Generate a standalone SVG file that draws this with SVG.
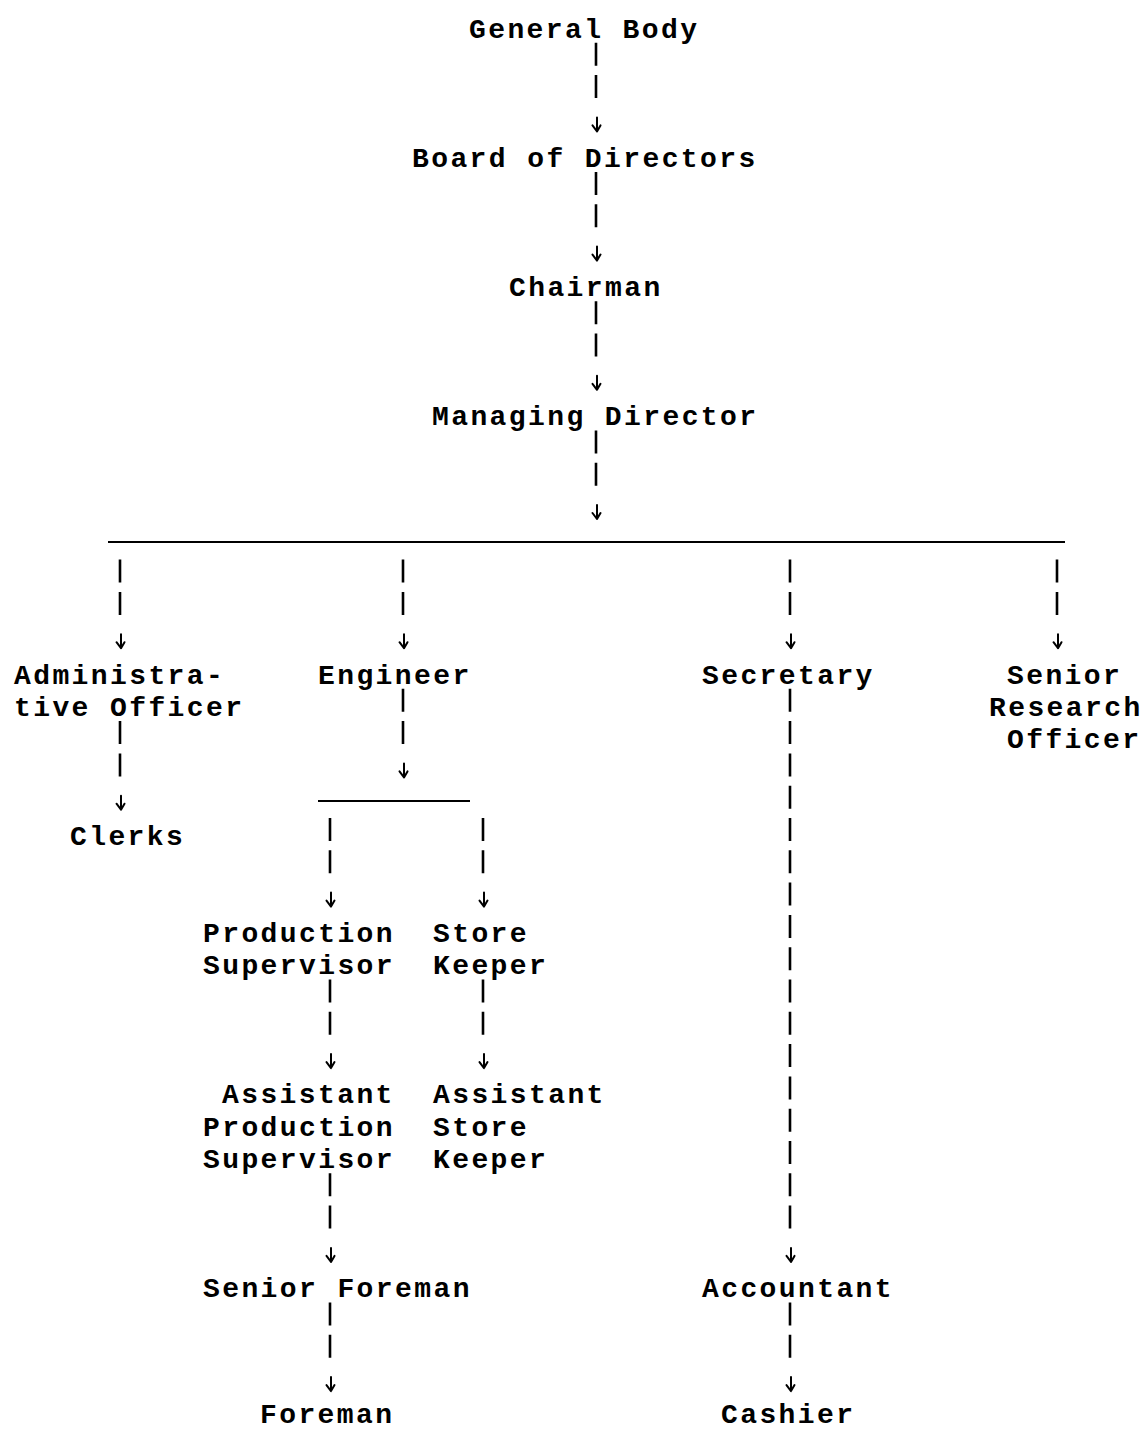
<svg xmlns="http://www.w3.org/2000/svg" xmlns:xlink="http://www.w3.org/1999/xlink" width="1148" height="1431" viewBox="0 0 1148 1431">
<style>
text{font-family:"Liberation Mono","DejaVu Sans Mono",monospace;font-size:28px;letter-spacing:2.4px;fill:#000;font-weight:bold;}
.pipe{fill:none;stroke:#000;stroke-width:2.6;stroke-dasharray:23 9.3;}
.hl{fill:none;stroke:#000;stroke-width:2;}
.ar{fill:none;stroke:#000;stroke-width:2;stroke-linecap:round;stroke-linejoin:round;}
</style>
<defs>
<g id="arr"><path class="ar" d="M0,-14 V0 M-4.5,-6 L0,0 L3.5,-6"/></g>
</defs>
<rect x="0" y="0" width="1148" height="1431" fill="#fff"/>
<g id="connectors">
<path class="pipe" d="M596,42.8 V98.1 M596,172 V227.3 M596,301.2 V356.5 M596,430.4 V485.7"/>
<use xlink:href="#arr" href="#arr" x="597" y="131.4"/>
<use xlink:href="#arr" href="#arr" x="597" y="260.6"/>
<use xlink:href="#arr" href="#arr" x="597" y="389.8"/>
<use xlink:href="#arr" href="#arr" x="597" y="519"/>
<path class="hl" d="M108,542 H1065"/>
<path class="pipe" d="M120,559.6 V614.9 M120,721.1 V776.4"/>
<use xlink:href="#arr" href="#arr" x="121" y="648.2"/>
<use xlink:href="#arr" href="#arr" x="121" y="809.7"/>
<path class="pipe" d="M403,559.6 V614.9 M403,688.8 V744.1"/>
<use xlink:href="#arr" href="#arr" x="404" y="648.2"/>
<use xlink:href="#arr" href="#arr" x="404" y="777.4"/>
<path class="hl" d="M318,801 H470"/>
<path class="pipe" d="M330,818 V873.3 M330,979.5 V1034.8 M330,1173.3 V1228.6 M330,1302.5 V1357.8"/>
<use xlink:href="#arr" href="#arr" x="331" y="906.6"/>
<use xlink:href="#arr" href="#arr" x="331" y="1068.1"/>
<use xlink:href="#arr" href="#arr" x="331" y="1261.9"/>
<use xlink:href="#arr" href="#arr" x="331" y="1391.1"/>
<path class="pipe" d="M483,818 V873.3 M483,979.5 V1034.8"/>
<use xlink:href="#arr" href="#arr" x="484" y="906.6"/>
<use xlink:href="#arr" href="#arr" x="484" y="1068.1"/>
<path class="pipe" d="M790,559.6 V614.9 M790,688.8 V1228.6 M790,1302.5 V1357.8"/>
<use xlink:href="#arr" href="#arr" x="791" y="648.2"/>
<use xlink:href="#arr" href="#arr" x="791" y="1261.9"/>
<use xlink:href="#arr" href="#arr" x="791" y="1391.1"/>
<path class="pipe" d="M1057,559.6 V614.9"/>
<use xlink:href="#arr" href="#arr" x="1058" y="648.2"/>
</g>
<g id="general-body"><text x="469" y="37.5">General Body</text></g>
<g id="board"><text x="412" y="166.7">Board of Directors</text></g>
<g id="chairman"><text x="509" y="295.9">Chairman</text></g>
<g id="md"><text x="432" y="425.1">Managing Director</text></g>
<g id="admin"><text x="14" y="683.5">Administra-</text><text x="14" y="715.8">tive Officer</text></g>
<g id="clerks"><text x="70" y="845">Clerks</text></g>
<g id="engineer"><text x="318" y="683.5">Engineer</text></g>
<g id="secretary"><text x="702" y="683.5">Secretary</text></g>
<g id="sro"><text x="1007" y="683.5">Senior</text><text x="989" y="715.8">Research</text><text x="1007" y="748.1">Officer</text></g>
<g id="prod-sup"><text x="203" y="941.9">Production</text><text x="203" y="974.2">Supervisor</text></g>
<g id="store-keeper"><text x="433" y="941.9">Store</text><text x="433" y="974.2">Keeper</text></g>
<g id="asst-prod-sup"><text x="222" y="1103.4">Assistant</text><text x="203" y="1135.7">Production</text><text x="203" y="1168">Supervisor</text></g>
<g id="asst-store-keeper"><text x="433" y="1103.4">Assistant</text><text x="433" y="1135.7">Store</text><text x="433" y="1168">Keeper</text></g>
<g id="senior-foreman"><text x="203" y="1297.2">Senior Foreman</text></g>
<g id="foreman"><text x="260" y="1422.5">Foreman</text></g>
<g id="accountant"><text x="702" y="1297.2">Accountant</text></g>
<g id="cashier"><text x="721" y="1422.5">Cashier</text></g>
</svg>
